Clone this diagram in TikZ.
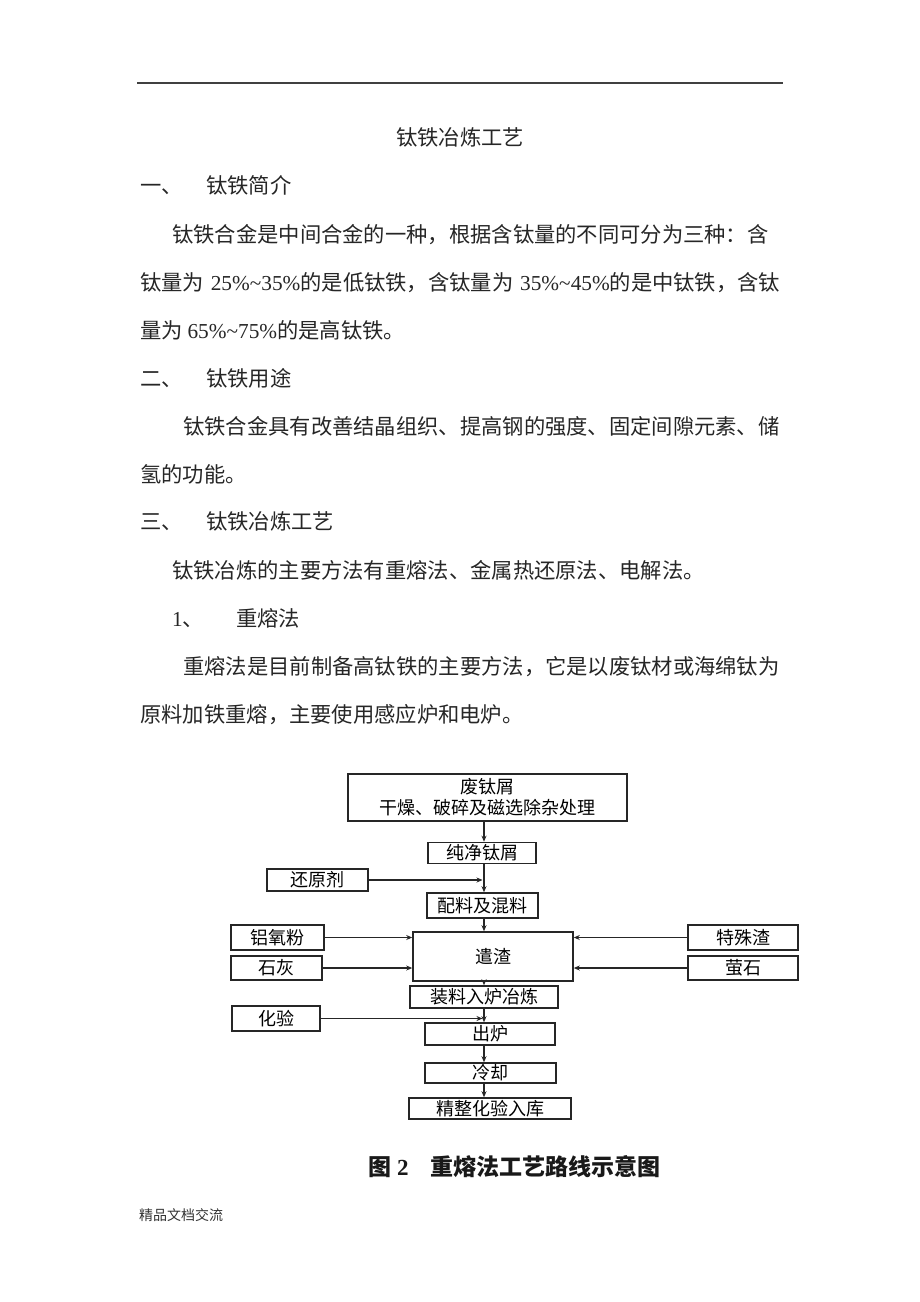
\documentclass[tikz,border=0pt]{standalone}
\usepackage{fontspec}
\setmainfont{Liberation Serif}
\newfontfamily\cjk{Noto Sans CJK SC}
\newfontfamily\lat{Liberation Serif}
\usetikzlibrary{arrows.meta}
\XeTeXlinebreaklocale "zh"
\XeTeXlinebreakskip=0pt plus 4pt
\begin{document}
\begin{tikzpicture}[x=1pt,y=-1pt,
  txt/.style={inner sep=0pt, anchor=base west, font=\cjk\fontsize{21.3}{21.3}\selectfont, text=black!85},
  box/.style={draw=black!85, line width=1.6pt, inner sep=0pt, align=center,
    font=\cjk\fontsize{18}{21}\selectfont},
  arr/.style={draw=black!85, line width=1.4pt, -{Stealth[length=6pt,width=5pt]}},
]
\useasboundingbox (0,0) rectangle (920,1302);
\fill[white] (0,0) rectangle (920,1302);
\draw[line width=1.3pt, black!75] (137,83) -- (783,83);

% body text
\node[txt, anchor=base] (title) at (460,145) {钛铁冶炼工艺};
\node[txt] (h1n) at (140,193) {一、};
\node[txt] (h1t) at (206,193) {钛铁简介};
\node[txt] (p1a) at (172,242) {\hbox to 608pt{钛铁合金是中间合金的一种，根据含钛量的不同可分为三种：含}};
\node[txt] (p1b) at (140,290) {\hbox to 640pt{钛量为 {\lat 25\%\textasciitilde35\%}的是低钛铁，含钛量为 {\lat 35\%\textasciitilde45\%}的是中钛铁，含钛}};
\node[txt] (p1c) at (140,338) {量为 {\lat 65\%\textasciitilde75\%}的是高钛铁。};
\node[txt] (h2n) at (140,386) {二、};
\node[txt] (h2t) at (206,386) {钛铁用途};
\node[txt] (p2a) at (183,434) {\hbox to 597pt{钛铁合金具有改善结晶组织、提高钢的强度、固定间隙元素、储}};
\node[txt] (p2b) at (140,482) {氢的功能。};
\node[txt] (h3n) at (140,529) {三、};
\node[txt] (h3t) at (206,529) {钛铁冶炼工艺};
\node[txt] (p3a) at (172,578) {钛铁冶炼的主要方法有重熔法、金属热还原法、电解法。};
\node[txt] (h4n) at (172,626) {{\lat 1}、};
\node[txt] (h4t) at (236,626) {重熔法};
\node[txt] (p4a) at (183,674) {\hbox to 597pt{重熔法是目前制备高钛铁的主要方法，它是以废钛材或海绵钛为}};
\node[txt] (p4b) at (140,722) {原料加铁重熔，主要使用感应炉和电炉。};

% flowchart
\coordinate (vx) at (484,0);
\node[box, minimum width=279pt, minimum height=47pt] (b1) at (487.5,797.5) {废钛屑\\干燥、破碎及磁选除杂处理};
\node[box, minimum width=108pt, minimum height=21pt] (b2) at (482,853) {纯净钛屑};
\node[box, minimum width=101pt, minimum height=22pt] (hyj) at (317.5,880) {还原剂};
\node[box, minimum width=111pt, minimum height=25pt] (b3) at (482.5,905.5) {配料及混料};
\node[box, minimum width=160pt, minimum height=49pt] (b4) at (493,956.5) {遣渣};
\node[box, minimum width=93pt, minimum height=25pt] (lyf) at (277.5,937.5) {铝氧粉};
\node[box, minimum width=91pt, minimum height=24pt] (sh) at (276.5,968) {石灰};
\node[box, minimum width=110pt, minimum height=25pt] (tsz) at (743,937.5) {特殊渣};
\node[box, minimum width=110pt, minimum height=24pt] (ys) at (743,968) {萤石};
\node[box, minimum width=148pt, minimum height=22pt] (b5) at (484,997) {装料入炉冶炼};
\node[box, minimum width=88pt, minimum height=25pt] (hy) at (276,1018.5) {化验};
\node[box, minimum width=130pt, minimum height=22pt] (b6) at (490,1034) {出炉};
\node[box, minimum width=131pt, minimum height=20pt] (b7) at (490.5,1073) {冷却};
\node[box, minimum width=162pt, minimum height=21pt] (b8) at (490,1108.5) {精整化验入库};

\draw[arr] (b1.south -| vx) -- (b2.north -| vx);
\draw[arr] (b2.south -| vx) -- (b3.north -| vx);
\draw[arr, shorten >=1.5pt] (hyj.east) -- (hyj.east -| vx);
\draw[arr] (b3.south -| vx) -- (b4.north -| vx);
\draw[arr] (lyf.east) -- (lyf.east -| b4.west);
\draw[arr] (sh.east) -- (sh.east -| b4.west);
\draw[arr] (tsz.west) -- (tsz.west -| b4.east);
\draw[arr] (ys.west) -- (ys.west -| b4.east);
\draw[arr] (b4.south -| vx) -- (b5.north -| vx);
\draw[arr] (b5.south -| vx) -- (b6.north -| vx);
\draw[arr, shorten >=1.5pt] (hy.east) -- (hy.east -| vx);
\draw[arr] (b6.south -| vx) -- (b7.north -| vx);
\draw[arr] (b7.south -| vx) -- (b8.north -| vx);

% caption and footer
\node[inner sep=0pt, anchor=base west, font=\cjk\bfseries\fontsize{23}{23}\selectfont, text=black!90] (cap) at (368,1175)
  {图\hspace{6pt}{\lat\bfseries 2}\hspace{22pt}重熔法工艺路线示意图};
\node[inner sep=0pt, anchor=base west, font=\cjk\fontsize{14}{14}\selectfont, text=black!80] (foot) at (139,1220) {精品文档交流};
\end{tikzpicture}
\end{document}
